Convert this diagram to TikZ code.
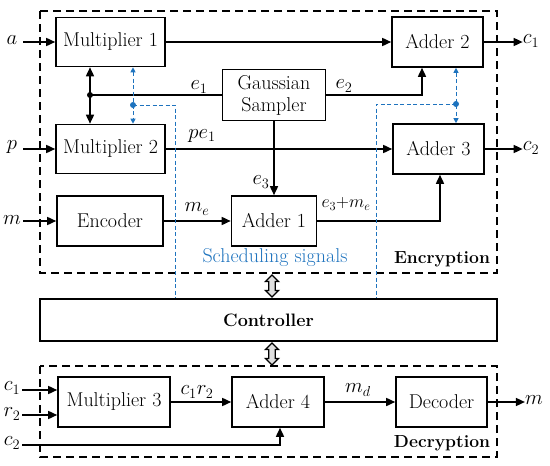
\documentclass[tikz,border=0pt]{standalone}
\usetikzlibrary{arrows.meta}
\definecolor{sblue}{RGB}{30,115,190}
\begin{document}
\begin{tikzpicture}[x=1pt,y=-1pt,
  txt/.style={font=\fontsize{20}{22}\selectfont},
  box/.style={draw,line width=1.6pt,inner sep=0pt,align=center,txt},
  sig/.style={line width=1.6pt,-{Triangle[length=9pt,width=8pt]}},
  sigb/.style={line width=1.6pt,{Triangle[length=9pt,width=8pt]}-{Triangle[length=9pt,width=8pt]}},
  ln/.style={line width=1.6pt},
  bl/.style={sblue,line width=1pt,dash pattern=on 4pt off 2.5pt},
  blarr/.style={bl,{Triangle[length=5pt,width=5pt]}-{Triangle[length=5pt,width=5pt]}},
  frame/.style={line width=1.1pt,dash pattern=on 8pt off 5pt},
  lbl/.style={txt,inner sep=0pt},
  fat/.style={draw,fill=gray!25,line width=1.3pt,line join=miter},
  bold/.style={font=\fontsize{17.5}{20}\selectfont\bfseries,inner sep=0pt}]
\useasboundingbox (0,0) rectangle (550,466);
% frames
\draw[frame] (40,11) rectangle (497,273);
\draw[frame] (40,366) rectangle (497,457);
% boxes
\node[box,minimum width=109pt,minimum height=49pt] (m1) at (110.5,42) {Multiplier 1};
\node[box,minimum width=109pt,minimum height=49pt] (m2) at (110.5,149) {Multiplier 2};
\node[box,minimum width=106pt,minimum height=50pt] (enc) at (110,221) {Encoder};
\node[box,minimum width=103pt,minimum height=51pt,text width=100pt,font=\fontsize{20}{22}\selectfont] (gs) at (274,95) {Gaussian\\Sampler};
\node[box,minimum width=85pt,minimum height=50pt] (a1) at (274,221) {Adder 1};
\node[box,minimum width=91pt,minimum height=50pt] (a2) at (437.5,42) {Adder 2};
\node[box,minimum width=91pt,minimum height=50pt] (a3) at (438.5,149) {Adder 3};
\node[box,minimum width=457pt,minimum height=42pt,font=\fontsize{18}{20}\selectfont\bfseries] (ctl) at (268.5,320) {Controller};
\node[box,minimum width=112pt,minimum height=50pt] (m3) at (114,402) {Multiplier 3};
\node[box,minimum width=92pt,minimum height=50pt] (a4) at (278,402) {Adder 4};
\node[box,minimum width=91pt,minimum height=50pt] (dec) at (441.5,402) {Decoder};
% inputs
\node[lbl] (ia) at (12,40) {$a$};
\node[lbl] (ip) at (12,147) {$p$};
\node[lbl] (im) at (12,220) {$m$};
\coordinate (sa) at (23,42);
\coordinate (sp) at (23,149);
\coordinate (sm) at (23,221);
\draw[sig] (sa) -- (m1.west |- sa);
\draw[sig] (sp) -- (m2.west |- sp);
\draw[sig] (sm) -- (enc.west |- sm);
% outputs
\node[lbl] (oc1) at (531,41) {$c_1$};
\node[lbl] (oc2) at (531,148) {$c_2$};
\draw[sig] (a2.east) -- (a2.east -| oc1.west);
\draw[sig] (a3.east) -- (a3.east -| oc2.west);
% main signals
\draw[sig] (m1.east) -- (a2.west);
\draw[sig] (m2.east) -- (a3.west);
\draw[sig] (enc.east) -- (a1.west);
\draw[sig] (gs.south) -- (a1.north);
\coordinate (j1) at (90,95);
\draw[ln] (gs.west |- j1) -- (j1);
\draw[sigb] (j1 |- m1.south) -- (j1 |- m2.north);
\fill (j1) circle (3pt);
\coordinate (e2c) at (422,95);
\draw[sig] (gs.east |- e2c) -- (e2c) -- (e2c |- a2.south);
\coordinate (e3c) at (440,221);
\draw[sig] (a1.east) -- (e3c) -- (e3c |- a3.south);
% labels
\node[lbl] (le1) at (199,87) {$e_1$};
\node[lbl] (le2) at (344,86) {$e_2$};
\node[lbl] (lpe) at (202,136) {$pe_1$};
\node[lbl] (lme) at (197,209) {$m_e$};
\node[lbl] (le3) at (261,182) {$e_3$};
\node[lbl,scale=0.86,transform shape] (lsum) at (346,204) {$e_3{+}m_e$};
% blue scheduling
\coordinate (bd1) at (133,105);
\coordinate (bc1) at (175,105);
\draw[blarr] (bd1 |- m1.south) -- (bd1 |- m2.north);
\draw[bl] (bd1) -- (bc1) -- (bc1 |- ctl.north);
\fill[sblue] (bd1) circle (3pt);
\coordinate (bd2) at (456,104);
\coordinate (bc2) at (376,104);
\draw[blarr] (bd2 |- a2.south) -- (bd2 |- a3.north);
\draw[bl] (bd2) -- (bc2) -- (bc2 |- ctl.north);
\fill[sblue] (bd2) circle (3pt);
\node[lbl,text=sblue] (ss) at (275,258) {Scheduling signals};
\node[bold] (encl) at (442,259) {Encryption};
% fat arrows
\foreach \yc in {286,354}{
  \draw[fat,shift={(272,\yc)}] (0,-11) -- (6.5,-4.5) -- (3.3,-4.5) -- (3.3,4.5) -- (6.5,4.5) -- (0,11)
    -- (-6.5,4.5) -- (-3.3,4.5) -- (-3.3,-4.5) -- (-6.5,-4.5) -- cycle;
}
% decryption
\node[lbl] (ic1) at (12,388) {$c_1$};
\node[lbl] (ir2) at (12,414) {$r_2$};
\node[lbl] (ic2) at (12,443) {$c_2$};
\coordinate (sc1) at (22,390);
\coordinate (sr2) at (22,415);
\coordinate (sc2) at (22,445);
\coordinate (tc2) at (280,445);
\draw[sig] (sc1) -- (m3.west |- sc1);
\draw[sig] (sr2) -- (m3.west |- sr2);
\draw[sig] (sc2) -- (tc2) -- (tc2 |- a4.south);
\draw[sig] (m3.east) -- (a4.west);
\draw[sig] (a4.east) -- (dec.west);
\node[lbl] (om) at (534,400) {$m$};
\draw[sig] (dec.east) -- (dec.east -| om.west);
\node[lbl] (lcr) at (197,392) {$c_1r_2$};
\node[lbl] (lmd) at (358,390) {$m_d$};
\node[bold] (decl) at (442,443) {Decryption};
\end{tikzpicture}
\end{document}
